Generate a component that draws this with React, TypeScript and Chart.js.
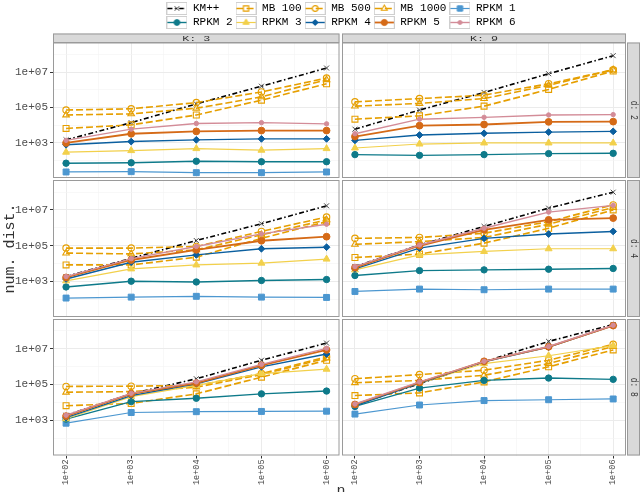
import React, { useEffect, useRef } from 'react';
import { Chart, registerables } from 'chart.js';

Chart.register(...registerables);

const FONT = '"Liberation Mono", "DejaVu Sans Mono", monospace';

// ---- axes ----
const N_VALUES = [1e2, 1e3, 1e4, 1e5, 1e6];
const X_TICK_LABELS = ['1e+02', '1e+03', '1e+04', '1e+05', '1e+06'];
const X_MINOR = [316.23, 3162.3, 31623, 316228];
const Y_MAJOR = [1e3, 1e5, 1e7];
const Y_TICK_LABELS = ['1e+03', '1e+05', '1e+07'];
const Y_MINOR = [1e2, 1e4, 1e6, 1e8];
const X_MIN = 63;
const X_MAX = 1.58e6;
const Y_MIN = 10.5;
const Y_MAX = 4.7e8;

// ---- series ----
const SERIES = ['KM++', 'MB 100', 'MB 500', 'MB 1000', 'RPKM 1', 'RPKM 2', 'RPKM 3', 'RPKM 4', 'RPKM 5', 'RPKM 6'];
const LEGEND_TEXT = ['KM++  ', 'MB 100', 'MB 500', 'MB 1000', 'RPKM 1', 'RPKM 2', 'RPKM 3', 'RPKM 4', 'RPKM 5 ', 'RPKM 6'];
const K_LABELS = ['K: 3', 'K: 9'];
const D_LABELS = ['d: 2', 'd: 4', 'd: 8'];

// rows follow SERIES order, columns follow N_VALUES
const K3_D2 = [
  [1.5e3, 1.4e4, 1.6e5, 1.6e6, 1.7e7],
  [6.6e3, 1.05e4, 3.8e4, 2.6e5, 2.2e6],
  [7.2e4, 8.5e4, 1.9e5, 7.6e5, 4.6e6],
  [3.8e4, 4.4e4, 9.1e4, 4.0e5, 3.7e6],
  [23, 24, 21, 21, 23],
  [72, 76, 93, 87, 87],
  [300, 370, 480, 390, 480],
  [790, 1.2e3, 1.5e3, 1.7e3, 1.7e3],
  [1.0e3, 3.3e3, 4.5e3, 5.0e3, 5.0e3],
  [1.4e3, 6.0e3, 1.26e4, 1.4e4, 1.2e4],
];
const K9_D2 = [
  [6.0e3, 7.2e4, 7.1e5, 8.1e6, 8.5e7],
  [2.2e4, 3.4e4, 1.2e5, 1.05e6, 1.15e7],
  [2.1e5, 3.2e5, 5.0e5, 2.2e6, 1.35e7],
  [1.2e5, 1.7e5, 3.2e5, 1.8e6, 1.35e7],
  [null, null, null, null, null],
  [220, 200, 220, 250, 260],
  [520, 870, 1.0e3, 1.0e3, 1.0e3],
  [1.4e3, 2.8e3, 3.5e3, 4.1e3, 4.5e3],
  [2.3e3, 9.5e3, 1.1e4, 1.55e4, 1.6e4],
  [3.3e3, 2.2e4, 2.8e4, 3.8e4, 4.0e4],
];
const K3_D4 = [
  [1.9e3, 2.0e4, 1.95e5, 1.7e6, 1.7e7],
  [8.5e3, 8.5e3, 2.3e4, 2.6e5, 2.2e6],
  [7.4e4, 7.4e4, 9.1e4, 6.3e5, 4.0e6],
  [3.9e4, 3.5e4, 5.9e4, 4.1e5, 2.8e6],
  [120, 135, 150, 135, 130],
  [500, 1.05e3, 950, 1.15e3, 1.3e3],
  [1.1e3, 5.1e3, 8.5e3, 1.07e4, 1.8e4],
  [1.4e3, 1.2e4, 3.1e4, 6.8e4, 8.3e4],
  [1.7e3, 1.6e4, 5.9e4, 1.9e5, 3.2e5],
  [1.9e3, 1.9e4, 9.1e4, 4.6e5, 1.6e6],
];
const K9_D4 = [
  [6.9e3, 1.1e5, 1.2e6, 1.26e7, 9.8e7],
  [2.2e4, 3.4e4, 1.4e5, 9.5e5, 1.0e7],
  [2.6e5, 2.9e5, 5.0e5, 2.2e6, 1.9e7],
  [1.2e5, 1.7e5, 2.9e5, 1.6e6, 1.35e7],
  [280, 380, 350, 380, 380],
  [2.2e3, 4.1e3, 4.5e3, 4.9e3, 5.4e3],
  [4.5e3, 3.1e4, 4.8e4, 6.8e4, 6.8e4],
  [5.1e3, 7.4e4, 2.6e5, 4.5e5, 6.3e5],
  [6.0e3, 1.0e5, 7.8e5, 2.8e6, 3.5e6],
  [6.9e3, 1.1e5, 9.5e5, 7.6e6, 1.8e7],
];
const K3_D8 = [
  [1.9e3, 3.0e4, 2.1e5, 2.3e6, 2.1e7],
  [6.5e3, 8.7e3, 3.0e4, 2.6e5, 2.3e6],
  [7.8e4, 8.1e4, 8.9e4, 4.1e5, 3.6e6],
  [3.7e4, 4.0e4, 7.1e4, 3.6e5, 3.0e6],
  [680, 2.7e3, 3.0e3, 3.1e3, 3.2e3],
  [1.15e3, 1.1e4, 1.7e4, 3.0e4, 4.3e4],
  [1.2e3, 2.1e4, 8.9e4, 4.1e5, 7.2e5],
  [1.4e3, 2.4e4, 1.1e5, 9.8e5, 5.1e6],
  [1.7e3, 3.0e4, 1.2e5, 1.2e6, 8.7e6],
  [1.9e3, 3.2e4, 1.4e5, 1.35e6, 1.07e7],
];
const K9_D8 = [
  [7.1e3, 1.1e5, 1.9e6, 2.6e7, 2.3e8],
  [2.4e4, 3.4e4, 1.4e5, 9.8e5, 8.7e6],
  [2.1e5, 3.6e5, 6.3e5, 2.3e6, 1.8e7],
  [1.26e5, 1.7e5, 3.3e5, 1.5e6, 1.35e7],
  [2.2e3, 7.1e3, 1.26e4, 1.4e4, 1.55e4],
  [5.9e3, 6.3e4, 1.7e5, 2.3e5, 1.95e5],
  [7.1e3, 1.2e5, 1.5e6, 4.1e6, 1.5e7],
  [6.3e3, 1.2e5, 1.9e6, 1.26e7, 2.0e8],
  [7.6e3, 1.3e5, 2.0e6, 1.3e7, 2.0e8],
  [8.1e3, 1.4e5, 2.0e6, 1.35e7, 2.1e8],
];

const PANEL_DATA = [
  [K3_D2, K9_D2],
  [K3_D4, K9_D4],
  [K3_D8, K9_D8],
];

// ---- styles ----
const STYLES = [
  { color: '#000000', dash: [5, 2.5, 1.5, 2.5], width: 1.6, point: 'crossRot', radius: 3.5, fill: false, pc: '#444444', pw: 1 },
  { color: '#E69F00', dash: [7, 3], width: 1.6, point: 'rect', radius: 4.2, fill: false, pc: '#E69F00', pw: 1.1 },
  { color: '#E69F00', dash: [7, 3], width: 1.6, point: 'circle', radius: 3.2, fill: false, pc: '#E69F00', pw: 1.1 },
  { color: '#E69F00', dash: [7, 3], width: 1.6, point: 'triangle', radius: 3.8, fill: false, pc: '#E69F00', pw: 1.1 },
  { color: '#4C97D0', dash: [], width: 1.2, point: 'rect', radius: 4.2, fill: true, pc: '#4C97D0', pw: 1 },
  { color: '#0E7A8A', dash: [], width: 1.4, point: 'circle', radius: 3.2, fill: true, pc: '#0E7A8A', pw: 1 },
  { color: '#F2D04B', dash: [], width: 1.2, point: 'triangle', radius: 4, fill: true, pc: '#F2D04B', pw: 1 },
  { color: '#0B5F9F', dash: [], width: 1.4, point: 'rectRot', radius: 3.4, fill: true, pc: '#0B5F9F', pw: 1 },
  { color: '#D56A17', dash: [], width: 1.8, point: 'circle', radius: 3.4, fill: true, pc: '#D56A17', pw: 1 },
  { color: '#D38C98', dash: [], width: 1.4, point: 'circle', radius: 2.2, fill: true, pc: '#D38C98', pw: 1 },
];

// panel canvas geometry
const COL_LEFT = [0, 342];
const COL_WIDTH = [350, 298];
const ROW_TOP = [33, 180, 319];
const ROW_HEIGHT = [145, 137, 173];

const isMinorX = (v: number) => !N_VALUES.includes(v);
const isMinorY = (v: number) => !Y_MAJOR.includes(v);

function drawMarker(g: CanvasRenderingContext2D, st: any, x: number, y: number, r: number) {
  g.beginPath();
  g.strokeStyle = st.pc;
  g.fillStyle = st.color;
  g.lineWidth = st.pw;
  if (st.point === 'circle') {
    g.arc(x, y, r, 0, Math.PI * 2);
  } else if (st.point === 'rect') {
    const s = r * Math.SQRT1_2;
    g.rect(x - s, y - s, 2 * s, 2 * s);
  } else if (st.point === 'rectRot') {
    g.moveTo(x, y - r); g.lineTo(x + r, y); g.lineTo(x, y + r); g.lineTo(x - r, y); g.closePath();
  } else if (st.point === 'triangle') {
    const h = r * Math.sin(Math.PI / 3);
    g.moveTo(x, y - r); g.lineTo(x + h, y + r / 2); g.lineTo(x - h, y + r / 2); g.closePath();
  } else if (st.point === 'crossRot') {
    const s = r * Math.SQRT1_2;
    g.moveTo(x - s, y - s); g.lineTo(x + s, y + s);
    g.moveTo(x + s, y - s); g.lineTo(x - s, y + s);
    g.stroke();
    return;
  }
  if (st.fill) g.fill();
  g.stroke();
}

function makeKey(i: number) {
  const st = STYLES[i];
  const c = document.createElement('canvas');
  c.width = 21; c.height = 13;
  const g = c.getContext('2d')!;
  g.fillStyle = '#ffffff'; g.fillRect(0, 0, 21, 13);
  g.strokeStyle = '#CFCFCF'; g.lineWidth = 1; g.strokeRect(0.5, 0.5, 20, 12);
  g.strokeStyle = st.color; g.lineWidth = st.width; g.setLineDash(st.dash);
  g.beginPath(); g.moveTo(1, 6.5); g.lineTo(20, 6.5); g.stroke();
  g.setLineDash([]);
  drawMarker(g, st, 10.5, 6.5, st.radius * 0.9);
  return c;
}

function decoPlugin(row: number, col: number) {
  return {
    id: 'deco' + row + col,
    afterDraw(chart: any) {
      const { ctx, chartArea: a } = chart;
      ctx.save();
      ctx.strokeStyle = '#9A9A9A';
      ctx.lineWidth = 1;
      ctx.strokeRect(a.left + 0.5, a.top + 0.5, a.right - a.left - 1, a.bottom - a.top - 1);
      ctx.textAlign = 'center';
      ctx.textBaseline = 'middle';
      if (row === 0) {
        ctx.fillStyle = '#D9D9D9';
        ctx.fillRect(a.left, 0.5, a.right - a.left, a.top - 0.5);
        ctx.strokeRect(a.left + 0.5, 1, a.right - a.left - 1, a.top - 1);
        ctx.save();
        ctx.fillStyle = '#333333';
        ctx.font = '9px ' + FONT;
        ctx.translate((a.left + a.right) / 2, (a.top + 0.5) / 2 + 0.5);
        ctx.scale(1.3, 0.9);
        ctx.fillText(K_LABELS[col], 0, 0);
        ctx.restore();
      }
      if (col === 1) {
        const x0 = a.right + 1;
        const w = chart.width - x0;
        ctx.fillStyle = '#D9D9D9';
        ctx.fillRect(x0, a.top, w, a.bottom - a.top);
        ctx.strokeRect(x0 + 0.5, a.top + 0.5, w - 1, a.bottom - a.top - 1);
        ctx.fillStyle = '#333333';
        ctx.font = '8px ' + FONT;
        ctx.translate(x0 + w / 2, (a.top + a.bottom) / 2);
        ctx.rotate(Math.PI / 2);
        ctx.scale(1, 1.25);
        ctx.fillText(D_LABELS[row], 0, 0);
      }
      ctx.restore();
    },
  };
}

function panelConfig(row: number, col: number) {
  const values = PANEL_DATA[row][col];
  const left = col === 0;
  const bottom = row === 2;
  const datasets = SERIES.map((name, i) => {
    const st = STYLES[i];
    return {
      label: name,
      data: N_VALUES.map((n, j) => ({ x: n, y: values[i][j] })),
      borderColor: st.color,
      backgroundColor: st.color,
      borderWidth: st.width,
      borderDash: st.dash,
      pointStyle: st.point,
      pointRadius: st.radius,
      pointBorderWidth: st.pw,
      pointBorderColor: st.pc,
      pointBackgroundColor: st.fill ? st.color : 'rgba(0,0,0,0)',
      tension: 0,
      fill: false,
      order: SERIES.length - i,
    };
  });
  const xGrid = [...N_VALUES, ...X_MINOR].sort((a, b) => a - b);
  const yGrid = [...Y_MAJOR, ...Y_MINOR].sort((a, b) => a - b);
  const zeroPad = (s: any) => {
    s.paddingLeft = 0; s.paddingRight = 0; s.paddingTop = 0; s.paddingBottom = 0;
  };
  return {
    type: 'line',
    data: { datasets },
    options: {
      responsive: false,
      animation: false,
      events: [],
      layout: {
        autoPadding: false,
        padding: { left: 0, right: col === 1 ? 14 : 10.5, top: row === 0 ? 9.5 : 0, bottom: 0 },
      },
      plugins: { legend: { display: false }, tooltip: { enabled: false }, title: { display: false } },
      scales: {
        x: {
          type: 'logarithmic',
          min: X_MIN,
          max: X_MAX,
          bounds: 'data',
          afterBuildTicks: (s: any) => { s.ticks = xGrid.map((v) => ({ value: v })); },
          afterFit: (s: any) => { s.height = bottom ? 36.5 : 0; zeroPad(s); },
          border: { display: false },
          grid: {
            color: (c: any) => (c.tick && isMinorX(c.tick.value) ? '#F4F4F4' : '#EBEBEB'),
            lineWidth: (c: any) => (c.tick && isMinorX(c.tick.value) ? 0.6 : 1),
            tickColor: (c: any) => (c.tick && isMinorX(c.tick.value) ? 'rgba(0,0,0,0)' : '#333333'),
            tickWidth: 1,
            tickLength: 3,
            drawTicks: bottom,
          },
          ticks: {
            display: bottom,
            autoSkip: false,
            minRotation: 90,
            maxRotation: 90,
            padding: 1,
            color: '#4D4D4D',
            font: { size: 8.5, family: FONT },
            callback: (v: any) => { const k = N_VALUES.indexOf(Number(v)); return k >= 0 ? X_TICK_LABELS[k] : ''; },
          },
        },
        y: {
          type: 'logarithmic',
          min: Y_MIN,
          max: Y_MAX,
          bounds: 'data',
          afterBuildTicks: (s: any) => { s.ticks = yGrid.map((v) => ({ value: v })); },
          afterFit: (s: any) => { s.width = left ? 53 : 0; zeroPad(s); },
          border: { display: false },
          grid: {
            color: (c: any) => (c.tick && isMinorY(c.tick.value) ? '#F4F4F4' : '#EBEBEB'),
            lineWidth: (c: any) => (c.tick && isMinorY(c.tick.value) ? 0.6 : 1),
            tickColor: (c: any) => (c.tick && isMinorY(c.tick.value) ? 'rgba(0,0,0,0)' : '#333333'),
            tickWidth: 1,
            tickLength: 3,
            drawTicks: left,
          },
          ticks: {
            display: left,
            autoSkip: false,
            padding: 2,
            color: '#4D4D4D',
            font: { size: 11, family: FONT },
            callback: (v: any) => { const k = Y_MAJOR.indexOf(Number(v)); return k >= 0 ? Y_TICK_LABELS[k] : ''; },
          },
          title: {
            display: left && row === 1,
            text: 'num. dist.',
            color: '#333333',
            font: { size: 15, family: FONT },
            padding: { top: 1, bottom: 0 },
          },
        },
      },
    },
    plugins: [decoPlugin(row, col)],
  };
}

function overlayConfig() {
  const keys = SERIES.map((_, i) => makeKey(i));
  return {
    type: 'line',
    data: { datasets: SERIES.map((s) => ({ label: s, data: [] })) },
    options: {
      responsive: false,
      animation: false,
      events: [],
      layout: { autoPadding: false, padding: { left: 151, right: 109, top: 0, bottom: 0 } },
      scales: { x: { display: false, type: 'linear' }, y: { display: false } },
      plugins: {
        tooltip: { enabled: false },
        legend: {
          display: true,
          position: 'top',
          align: 'center',
          labels: {
            usePointStyle: true,
            pointStyleWidth: 21,
            padding: 3,
            color: '#4D4D4D',
            font: { size: 11, family: FONT },
            generateLabels: () =>
              SERIES.map((_, i) => ({
                text: LEGEND_TEXT[i],
                pointStyle: keys[i],
                fillStyle: 'rgba(0,0,0,0)',
                strokeStyle: 'rgba(0,0,0,0)',
                lineWidth: 0,
                hidden: false,
                datasetIndex: i,
              })),
          },
        },
        title: {
          display: true,
          text: 'n',
          position: 'bottom',
          padding: { top: 0, bottom: 0 },
          color: '#333333',
          font: { size: 15, family: FONT, weight: 'normal' },
        },
      },
    },
  };
}

const CELLS = [0, 1, 2].flatMap((r) => [0, 1].map((c) => ({ r, c })));

export default function App() {
  const refs = useRef<(HTMLCanvasElement | null)[]>([]);
  const overlayRef = useRef<HTMLCanvasElement | null>(null);

  useEffect(() => {
    Chart.defaults.font.family = FONT;
    const charts: any[] = [];
    CELLS.forEach(({ r, c }, i) => {
      const el = refs.current[i];
      if (el) charts.push(new Chart(el, panelConfig(r, c) as any));
    });
    if (overlayRef.current) charts.push(new Chart(overlayRef.current, overlayConfig() as any));
    return () => charts.forEach((ch) => ch.destroy());
  }, []);

  return (
    <div style={{ position: 'absolute', left: 0, top: 0, width: 640, height: 492, overflow: 'hidden', background: '#ffffff' }}>
      {CELLS.map(({ r, c }, i) => (
        <canvas
          key={i}
          ref={(el) => { refs.current[i] = el; }}
          width={COL_WIDTH[c]}
          height={ROW_HEIGHT[r]}
          style={{ position: 'absolute', left: COL_LEFT[c], top: ROW_TOP[r], width: COL_WIDTH[c], height: ROW_HEIGHT[r] }}
        />
      ))}
      <canvas
        ref={overlayRef}
        width={640}
        height={500}
        style={{ position: 'absolute', left: 0, top: 0, width: 640, height: 500, pointerEvents: 'none' }}
      />
    </div>
  );
}
